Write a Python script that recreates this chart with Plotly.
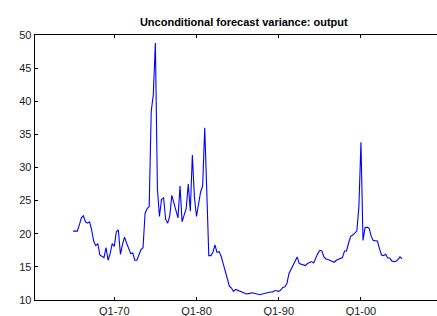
import pandas as pd
import plotly.graph_objects as go

start_quarter = "1965-01-01"
variance = [
    20.4, 20.4, 20.4, 21.3, 22.4, 22.7, 21.8, 21.6, 21.8, 20.6,
    18.9, 18.2, 18.5, 16.8, 16.6, 16.4, 17.9, 16.0, 17.0, 18.5,
    18.1, 20.3, 20.6, 16.9, 18.4, 19.5, 18.6, 17.8, 17.0, 17.1,
    16.0, 16.0, 17.0, 17.6, 17.9, 23.1, 23.8, 24.1, 38.5, 41.0,
    48.8, 26.8, 22.6, 25.2, 25.4, 22.2, 21.6, 22.7, 25.8, 24.6,
    23.2, 22.4, 27.2, 21.8, 22.8, 23.8, 27.5, 23.4, 31.9, 25.5,
    22.6, 24.8, 26.3, 27.2, 36.0, 26.5, 16.7, 16.7, 17.2, 18.3,
    17.2, 17.3, 16.6, 15.5, 14.4, 13.1, 12.1, 11.8, 11.3, 11.6,
    11.5, 11.4, 11.2, 11.1, 10.9, 10.9, 11.0, 11.1, 11.0, 10.9,
    10.9, 10.8, 10.9, 11.0, 11.1, 11.2, 11.2, 11.2, 11.4, 11.4,
    11.3, 11.5, 11.9, 12.0, 12.5, 14.0, 14.6, 15.2, 16.0, 16.5,
    15.5, 15.4, 15.3, 15.2, 15.5, 15.7, 15.8, 15.6, 16.4, 17.0,
    17.5, 17.4, 16.5, 16.2, 16.1, 16.0, 15.8, 15.7, 16.0, 16.1,
    16.2, 16.4, 17.4, 17.4, 18.6, 19.6, 19.8, 20.1, 20.4, 24.0,
    33.8, 19.0, 20.9, 21.0, 20.8, 19.6, 19.0, 18.95, 18.9, 17.8,
    16.8, 16.7, 16.9, 16.35, 16.35, 15.9, 15.8, 15.85, 16.1, 16.5,
    16.2,
]
tick_dates = ["1970-01-01", "1980-01-01", "1990-01-01", "2000-01-01"]
tick_labels = ["Q1-70", "Q1-80", "Q1-90", "Q1-00"]
y_ticks = [10, 15, 20, 25, 30, 35, 40, 45, 50]

dates = pd.date_range(start_quarter, periods=len(variance), freq="QS")

fig = go.Figure()
fig.add_trace(go.Scatter(
    x=dates, y=variance, mode="lines",
    line=dict(color="#0000ff", width=1.1),
    hoverinfo="skip", showlegend=False,
))

axis_font = dict(family="Liberation Sans, Arial, sans-serif", size=11, color="#1a1a1a")

fig.update_layout(
    width=437, height=316,
    margin=dict(l=35, r=0, t=35, b=16, pad=0),
    paper_bgcolor="white", plot_bgcolor="white",
    title=dict(
        text="<b>Unconditional forecast variance: output</b>",
        x=227 / 437, xanchor="center", xref="paper",
        y=1 - 22 / 316, yanchor="middle",
        font=dict(family="Liberation Sans, Arial, sans-serif", size=11, color="#000000"),
    ),
    xaxis=dict(
        type="date",
        range=["1960-05-12", "2009-04-01"],
        tickvals=tick_dates, ticktext=tick_labels,
        ticks="inside", ticklen=3, tickcolor="#000000", tickwidth=1,
        showline=True, linecolor="#000000", linewidth=1.3, mirror="ticks",
        showgrid=False, zeroline=False,
        tickfont=axis_font, automargin=False,
    ),
    yaxis=dict(
        range=[10, 50],
        tickvals=y_ticks,
        ticks="inside", ticklen=3, tickcolor="#000000", tickwidth=1,
        showline=True, linecolor="#000000", linewidth=1.3, mirror=False,
        showgrid=False, zeroline=False,
        tickfont=axis_font, automargin=False,
    ),
)

fig.write_html(
    "out.html",
    config={"displayModeBar": False, "staticPlot": True},
    post_script="document.body.style.margin='0';document.body.style.overflow='hidden';",
)
